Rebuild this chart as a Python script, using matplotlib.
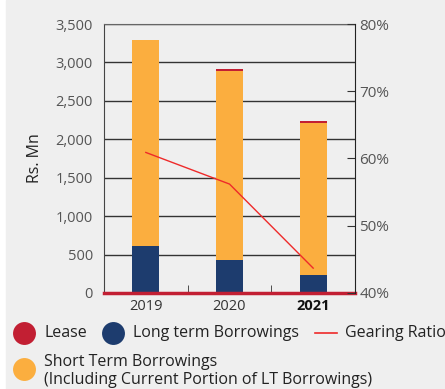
import matplotlib
matplotlib.use("Agg")
import matplotlib.pyplot as plt
from matplotlib.lines import Line2D
from matplotlib.patches import Rectangle
import numpy as np

years = ["2019", "2020", "2021"]
long_term = [611, 429, 234]
short_term = [2681, 2460, 1979]
lease = [0, 25, 25]
gearing = [60.9, 56.2, 43.7]
yticks = [0, 500, 1000, 1500, 2000, 2500, 3000, 3500]
rticks = [40, 50, 60, 70, 80]

C_ORANGE = "#FBAE3F"
C_NAVY = "#1D3C6E"
C_CRIMSON = "#C21F33"
C_LINE = "#EE2A2A"
BG = "#EFEFEF"
TXT = "#555555"

plt.rcParams['font.family'] = ['Open Sans', 'DejaVu Sans']

W, H = 445, 389
fig = plt.figure(figsize=(W/100, H/100), dpi=100)
fig.patch.set_facecolor("white")
fig.add_artist(Rectangle((6/W, 0), 1, 1, transform=fig.transFigure, color=BG, zorder=-10))

ax = fig.add_axes([104/W, 1-293/H, (355-104)/W, (293-24)/H])
ax.set_facecolor(BG)
x = np.arange(len(years))
wd = 0.32
lt = np.array(long_term); st = np.array(short_term); ls = np.array(lease)
ax.bar(x, lt, wd, color=C_NAVY, zorder=3)
ax.bar(x, st, wd, bottom=lt, color=C_ORANGE, zorder=3)
ax.bar(x, ls, wd, bottom=lt+st, color=C_CRIMSON, zorder=3)
ax.set_xlim(-0.5, 2.5)
ax.set_ylim(0, 3500)
ax.set_yticks(yticks)
ax.set_yticklabels([f"{v:,}" for v in yticks], color=TXT, fontsize=10.5)
ax.tick_params(axis='y', length=0, pad=8)
ax.yaxis.grid(True, color="#333333", linewidth=1.0, zorder=0)
ax.set_axisbelow(True)
ax.set_xticks(x)
ax.set_xticklabels(years, fontsize=10.5, color="#333333")
ax.get_xticklabels()[2].set_fontweight('bold')
ax.get_xticklabels()[2].set_color('#111111')
ax.tick_params(axis='x', length=0, pad=4)
ax.set_xticks([0.5, 1.5], minor=True)
ax.tick_params(axis='x', which='minor', direction='in', length=6, color="#333333")
ax.spines['top'].set_color("#666666")
ax.spines['left'].set_color("#444444")
ax.spines['right'].set_visible(False)
ax.spines['bottom'].set_color(C_CRIMSON)
ax.spines['bottom'].set_linewidth(2.5)
ax.spines['bottom'].set_zorder(5)
ax.set_ylabel("Rs. Mn", fontsize=11.5, color="#222222", labelpad=9)

ax2 = ax.twinx()
ax2.set_ylim(40, 80)
ax2.set_yticks(rticks)
ax2.set_yticklabels([f"{v}%" for v in rticks], color=TXT, fontsize=11)
ax2.tick_params(axis='y', direction='in', length=6, color="#333333", pad=3)
ax2.plot(x, gearing, color=C_LINE, linewidth=1.0, zorder=6)
ax2.spines['right'].set_color("#222222")
for s in ['top', 'left', 'bottom']:
    ax2.spines[s].set_visible(False)

def circle(px, py, c):
    fig.add_artist(Line2D([px/W], [1-py/H], marker='o', markersize=16.5, color=c,
                          markeredgewidth=0, transform=fig.transFigure))

def label(px, py, t):
    fig.text(px/W, 1-py/H, t, fontsize=11.5, color="#222222", va='center', ha='left')

circle(24, 333, C_CRIMSON); label(44, 333, "Lease")
circle(113, 333, C_NAVY); label(133, 333, "Long term Borrowings")
fig.add_artist(Line2D([315/W, 337/W], [1-333/H]*2, color=C_LINE, linewidth=1.2, transform=fig.transFigure))
label(345, 333, "Gearing Ratio")
circle(24, 369, C_ORANGE)
label(44, 362, "Short Term Borrowings")
label(44, 380, "(Including Current Portion of LT Borrowings)")

fig.savefig("out.png", dpi=100)
